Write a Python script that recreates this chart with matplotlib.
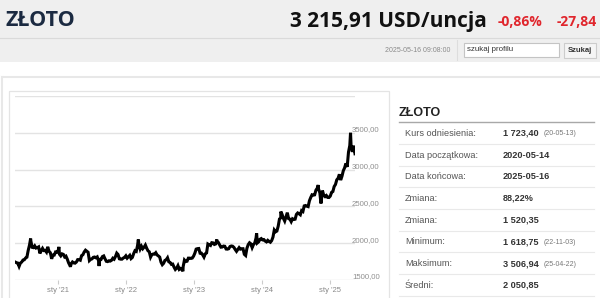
import matplotlib
matplotlib.use("Agg")
import matplotlib.pyplot as plt
from matplotlib.patches import Rectangle
import pandas as pd

# weekly gold prices (USD/oz), Fridays from 2020-05-15
W2020 = [1744, 1735, 1730, 1685, 1730, 1744, 1771, 1775, 1799, 1810, 1902, 1975,
         2035, 1944, 1940, 1964, 1934, 1940, 1950, 1861, 1900, 1930, 1900, 1902,
         1879, 1951, 1889, 1871, 1788, 1839, 1839, 1881, 1877]
W2021 = [1898, 1850, 1828, 1855, 1848, 1813, 1824, 1784, 1734, 1699, 1720, 1745,
         1732, 1729, 1744, 1777, 1777, 1769, 1831, 1843, 1881, 1905, 1891, 1877,
         1764, 1781, 1787, 1808, 1812, 1802, 1814, 1763, 1780, 1781, 1818, 1827,
         1788, 1754, 1750, 1761, 1757, 1768, 1796, 1783, 1818, 1865, 1846, 1788,
         1783, 1783, 1798, 1808, 1829]
W2022 = [1797, 1817, 1835, 1791, 1807, 1859, 1898, 1889, 1970, 1988, 1921, 1958,
         1925, 1946, 1975, 1932, 1897, 1883, 1811, 1846, 1853, 1851, 1871, 1840,
         1827, 1811, 1742, 1708, 1727, 1766, 1775, 1802, 1747, 1738, 1712, 1716,
         1675, 1643, 1661, 1695, 1644, 1657, 1645, 1681, 1771, 1751, 1755, 1797,
         1797, 1793, 1798, 1824]
W2023 = [1865, 1920, 1926, 1928, 1865, 1865, 1842, 1811, 1856, 1868, 1989, 1978,
         1969, 2007, 2004, 1983, 1990, 2017, 2011, 1978, 1946, 1948, 1961, 1958,
         1921, 1919, 1925, 1955, 1962, 1959, 1943, 1914, 1889, 1915, 1940, 1919,
         1924, 1925, 1849, 1833, 1932, 1981, 2006, 1992, 1940, 1981, 2002, 2072,
         2004, 2019, 2053, 2063]
W2024 = [2045, 2049, 2029, 2018, 2039, 2024, 2013, 2035, 2083, 2179, 2155, 2165,
         2230, 2329, 2344, 2392, 2337, 2301, 2360, 2415, 2334, 2327, 2293, 2332,
         2322, 2326, 2391, 2411, 2400, 2386, 2443, 2431, 2507, 2512, 2503, 2497,
         2577, 2621, 2658, 2653, 2657, 2721, 2747, 2736, 2685, 2563, 2715, 2650,
         2633, 2648, 2622, 2621]
W2025 = [2640, 2690, 2702, 2770, 2798, 2861, 2882, 2936, 2858, 2910, 2984, 3023,
         3084, 3037, 3237, 3327, 3319, 3241, 3325, 3215]

# intraweek extremes visible on the chart
EXTRA_DATES = ["2020-08-06", "2021-01-05", "2021-03-08", "2021-08-09", "2022-03-08",
               "2022-11-03", "2023-05-04", "2023-12-04", "2024-04-12", "2024-10-30",
               "2024-11-14", "2025-04-22"]
EXTRA_VALUES = [2063, 1950, 1680, 1690, 2050, 1619, 2050, 2135, 2430, 2790, 2540, 3500]

Y_TICKS = [1500, 2000, 2500, 3000, 3500, 4000]
Y_LABELS = ["1500,00", "2000,00", "2500,00", "3000,00", "3500,00"]
X_TICK_YEARS = [2021, 2022, 2023, 2024, 2025]

ROW_LABELS = ["Kurs odniesienia:", "Data początkowa:", "Data końcowa:", "Zmiana:",
              "Zmiana:", "Minimum:", "Maksimum:", "Średni:"]
ROW_VALUES = ["1 723,40", "2020-05-14", "2025-05-16", "88,22%", "1 520,35",
              "1 618,75", "3 506,94", "2 050,85"]
ROW_NOTES = ["(20-05-13)", "", "", "", "", "(22-11-03)", "(25-04-22)", ""]

SANS = ["Liberation Sans", "DejaVu Sans"]
HEAD = ["Open Sans", "DejaVu Sans"]

weekly = W2020 + W2021 + W2022 + W2023 + W2024 + W2025
dates = pd.date_range("2020-05-15", periods=len(weekly), freq="7D")
series = pd.concat([pd.Series(weekly, index=dates),
                    pd.Series(EXTRA_VALUES, index=pd.to_datetime(EXTRA_DATES))]).sort_index()

fig = plt.figure(figsize=(6, 2.98), dpi=100)
fig.patch.set_facecolor("white")

# page layer in pixel coordinates
bg = fig.add_axes([0, 0, 1, 1], zorder=0)
bg.set_xlim(0, 600)
bg.set_ylim(298, 0)
bg.axis("off")

bg.add_patch(Rectangle((0, 0), 600, 62, fc="#efefef", ec="none"))
bg.plot([0, 600], [37.5, 37.5], color="#dadada", lw=0.8)
bg.plot([457, 457], [40, 60], color="#dddddd", lw=0.8)
bg.plot([2, 600], [76.5, 76.5], color="#e8e8e8", lw=1.5)
bg.plot([2, 2], [76.5, 298], color="#e8e8e8", lw=1.5)
bg.add_patch(Rectangle((8.5, 90.5), 380.5, 220, fc="white", ec="#e4e4e4", lw=0.9))

bg.text(6, 26.5, "ZŁOTO", family=HEAD, weight="bold", fontsize=15.5, color="#1b2a41", va="baseline")
bg.text(487, 26.5, "3 215,91 USD/uncja", family=HEAD, weight="bold", fontsize=15,
        color="#111111", ha="right", va="baseline")
bg.text(498, 26, "-0,86%", family=HEAD, weight="bold", fontsize=10, color="#e0262d", va="baseline")
bg.text(597, 26, "-27,84", family=HEAD, weight="bold", fontsize=10, color="#e0262d",
        ha="right", va="baseline")

bg.text(450, 50, "2025-05-16 09:08:00", family=SANS, fontsize=5, color="#8a8a8a", ha="right", va="center")
bg.add_patch(Rectangle((463.5, 42.5), 95, 14.5, fc="white", ec="#c4c4c4", lw=0.8))
bg.text(467, 49.5, "szukaj profilu", family=SANS, fontsize=5.7, color="#333333", va="center")
bg.add_patch(Rectangle((563.5, 42.5), 32.5, 15, fc="#f5f5f5", ec="#cccccc", lw=0.8))
bg.text(579.7, 50, "Szukaj", family=SANS, weight="bold", fontsize=5.5, color="#333333",
        ha="center", va="center")

# stats table
bg.text(399, 115.5, "ZŁOTO", family=SANS, weight="bold", fontsize=9, color="#222222", va="baseline")
bg.plot([399, 594], [122, 122], color="#a8a8a8", lw=1)
row_h = 21.7
for i, (lab, val, note) in enumerate(zip(ROW_LABELS, ROW_VALUES, ROW_NOTES)):
    yc = 133.3 + i * row_h
    bg.text(405, yc, lab, family=SANS, fontsize=6.6, color="#555555", va="center")
    bg.text(503, yc, val, family=SANS, weight="bold", fontsize=6.6, color="#333333", va="center")
    if note:
        bg.text(544, yc + 0.5, note, family=SANS, fontsize=5, color="#777777", va="center")
    ys = yc + 10.5
    bg.plot([399, 594], [ys, ys], color="#e9e9e9", lw=0.8)

# price chart
ax = fig.add_axes([15 / 600, 18 / 298, 340 / 600, 184 / 298], zorder=1)
ax.set_facecolor("none")
ax.plot(series.index, series.values, color="black", lw=2.2, solid_joinstyle="miter")

ax.set_ylim(1500, 4000)
ax.set_xlim(pd.Timestamp("2020-05-14"), pd.Timestamp("2025-05-16"))
ax.set_yticks(Y_TICKS)
ax.tick_params(axis="y", length=0, labelleft=False)
ax.grid(axis="y", color="#e3e3e3", lw=1)
ax.set_axisbelow(True)
for s in ax.spines.values():
    s.set_visible(False)

for v, lab in zip(Y_TICKS, Y_LABELS):
    ax.annotate(lab, xy=(1, v), xycoords=("axes fraction", "data"), xytext=(-3, 3),
                textcoords="offset pixels", ha="left", va="center", family=SANS,
                fontsize=5.6, color="#909090", annotation_clip=False)

ax.set_xticks([pd.Timestamp(f"{y}-01-01") for y in X_TICK_YEARS])
ax.set_xticklabels([f"sty '{str(y)[2:]}" for y in X_TICK_YEARS], family=SANS, fontsize=5.5, color="#888888")
ax.tick_params(axis="x", length=3, width=0.8, color="#cccccc", pad=2)

fig.savefig("out.png", dpi=100)
